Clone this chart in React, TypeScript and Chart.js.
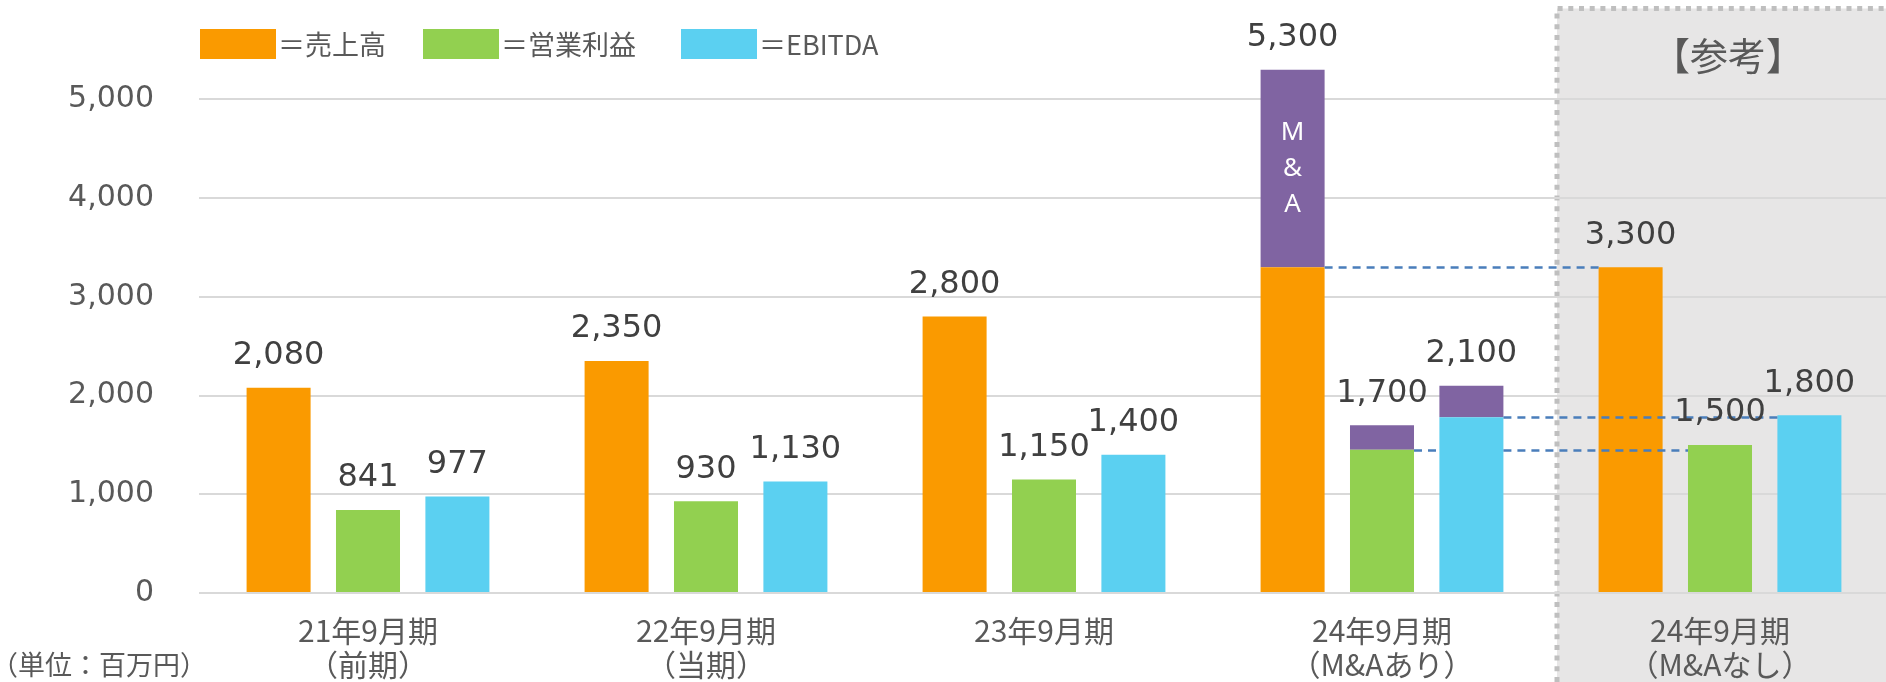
import React, { useEffect, useRef } from 'react';
import { Chart, registerables } from 'chart.js';

Chart.register(...registerables);

// ---- data ----
const categories: string[][] = [
  ['21年9月期', '（前期）'],
  ['22年9月期', '（当期）'],
  ['23年9月期'],
  ['24年9月期', '（M&Aあり）'],
  ['24年9月期', '（M&Aなし）'],
];
const sales: (number | null)[] = [2080, 2350, 2800, 3300, 3300];
const salesMA: (number | null)[] = [null, null, null, 2000, null];
const opProfit: (number | null)[] = [841, 930, 1150, 1450, 1500];
const opProfitMA: (number | null)[] = [null, null, null, 250, null];
const ebitda: (number | null)[] = [977, 1130, 1400, 1780, 1800];
const ebitdaMA: (number | null)[] = [null, null, null, 320, null];
const yTicks: number[] = [0, 1000, 2000, 3000, 4000, 5000];
const legendLabels: string[] = ['＝売上高', '＝営業利益', '＝EBITDA'];
const maLabel: string[] = ['M', '&', 'A'];
const unitLabel = '（単位：百万円）';
const refLabel = '【参考】';

const ORANGE = '#fa9a00';
const GREEN = '#92d050';
const CYAN = '#5bd0f1';
const PURPLE = '#8064a2';
const TEXT = '#595959';
const LABEL = '#404040';

const fmt = (v: number) => v.toLocaleString('en-US');

const decorPlugin = {
  id: 'decor',
  beforeDraw(chart: any) {
    const { ctx, scales } = chart;
    const x = scales.x;
    const bx = x.getPixelForValue(4) - 163;
    const top = 8.5;
    ctx.save();
    ctx.fillStyle = '#e7e6e6';
    ctx.fillRect(bx, top, chart.width - bx, chart.height - top);
    ctx.strokeStyle = '#bfbfbf';
    ctx.lineWidth = 5;
    ctx.setLineDash([5, 5.7]);
    ctx.beginPath();
    ctx.moveTo(bx, chart.height);
    ctx.lineTo(bx, top);
    ctx.lineTo(chart.width, top);
    ctx.stroke();
    ctx.restore();
  },
  afterDatasetsDraw(chart: any) {
    const { ctx, scales } = chart;
    const y = scales.y;
    const el = (ds: number, i: number) => chart.getDatasetMeta(ds).data[i];
    const right = (e: any) => e.x + e.width / 2;
    const left = (e: any) => e.x - e.width / 2;

    // dashed comparison lines
    ctx.save();
    ctx.strokeStyle = '#4a7ebb';
    ctx.lineWidth = 2.5;
    ctx.setLineDash([8, 6]);
    const seg = (x1: number, x2: number, v: number) => {
      const py = Math.round(y.getPixelForValue(v)) + 0.5;
      ctx.beginPath();
      ctx.moveTo(x1, py);
      ctx.lineTo(x2, py);
      ctx.stroke();
    };
    seg(right(el(1, 3)), left(el(0, 4)), sales[3] as number);
    seg(right(el(4, 3)), left(el(4, 4)), ebitda[3] as number);
    seg(right(el(2, 3)), left(el(4, 3)), opProfit[3] as number);
    seg(right(el(4, 3)), left(el(2, 4)), opProfit[3] as number);
    ctx.restore();

    // value labels above stacks
    ctx.save();
    ctx.fillStyle = LABEL;
    ctx.font = '32px "DejaVu Sans"';
    ctx.textAlign = 'center';
    ctx.textBaseline = 'alphabetic';
    const groups: [number, (number | null)[], (number | null)[]][] = [
      [0, sales, salesMA],
      [2, opProfit, opProfitMA],
      [4, ebitda, ebitdaMA],
    ];
    groups.forEach(([ds, base, extra]) => {
      base.forEach((b, i) => {
        if (b == null) return;
        const total = b + ((extra[i] as number) || 0);
        const e = el(ds, i);
        const py = y.getPixelForValue(total);
        ctx.fillText(fmt(total), e.x, py - 23.5);
      });
    });

    // M&A text inside purple sales bar
    const ma = el(1, 3);
    if (ma) {
      ctx.fillStyle = '#ffffff';
      ctx.font = '26px "Noto Sans"';
      ctx.textBaseline = 'middle';
      const cy = (ma.y + ma.base) / 2;
      const pitch = 36;
      maLabel.forEach((t, k) => {
        ctx.fillText(t, ma.x, cy + (k - (maLabel.length - 1) / 2) * pitch);
      });
    }
    ctx.restore();
  },
  afterDraw(chart: any) {
    const { ctx, chartArea, scales } = chart;
    const x = scales.x;
    ctx.save();
    // legend
    const colors = [ORANGE, GREEN, CYAN];
    const offsets = [1, 224, 482];
    ctx.font = '27px "Noto Sans CJK JP"';
    ctx.textBaseline = 'middle';
    ctx.textAlign = 'left';
    legendLabels.forEach((t, k) => {
      const lx = chartArea.left + offsets[k];
      ctx.fillStyle = colors[k];
      ctx.fillRect(lx, 29, 76, 30);
      ctx.fillStyle = TEXT;
      ctx.fillText(t, lx + 78, 45);
    });
    // reference heading
    ctx.font = '38px "Noto Sans CJK JP"';
    ctx.textAlign = 'center';
    ctx.fillStyle = TEXT;
    ctx.fillText(refLabel, x.getPixelForValue(4) + 8, 56);
    // unit
    ctx.font = '27px "Noto Sans CJK JP"';
    ctx.fillText(unitLabel, 99, 665);
    ctx.restore();
  },
};

export default function App() {
  const ref = useRef<HTMLCanvasElement | null>(null);

  useEffect(() => {
    document.body.style.margin = '0';
    document.body.style.overflow = 'hidden';
    const canvas = ref.current;
    if (!canvas) return;
    const common = { barPercentage: 0.716, categoryPercentage: 0.7935, borderWidth: 0 };
    const chart = new Chart(canvas, {
      type: 'bar',
      data: {
        labels: categories,
        datasets: [
          { label: '売上高', data: sales, backgroundColor: ORANGE, stack: 's', ...common },
          { label: '売上高M&A', data: salesMA, backgroundColor: PURPLE, stack: 's', ...common },
          { label: '営業利益', data: opProfit, backgroundColor: GREEN, stack: 'o', ...common },
          { label: '営業利益M&A', data: opProfitMA, backgroundColor: PURPLE, stack: 'o', ...common },
          { label: 'EBITDA', data: ebitda, backgroundColor: CYAN, stack: 'e', ...common },
          { label: 'EBITDA M&A', data: ebitdaMA, backgroundColor: PURPLE, stack: 'e', ...common },
        ],
      },
      options: {
        responsive: false,
        animation: false,
        devicePixelRatio: 1,
        layout: { padding: { top: 50, right: 0, left: 0, bottom: 0 } },
        plugins: { legend: { display: false }, tooltip: { enabled: false } },
        scales: {
          x: {
            stacked: true,
            grid: { display: false, drawTicks: false, tickLength: 0 },
            border: { display: false },
            ticks: {
              color: TEXT,
              font: { family: '"Noto Sans CJK JP"', size: 30, lineHeight: 34 / 30 },
              padding: 21,
              maxRotation: 0,
              autoSkip: false,
            },
            afterFit: (s: any) => {
              s.height = 89;
              s.paddingLeft = 0;
              s.paddingRight = 0;
            },
          },
          y: {
            stacked: true,
            min: 0,
            max: 5500,
            grid: { color: '#d9d9d9', lineWidth: 2, drawTicks: false, tickLength: 0 },
            border: { display: false },
            afterBuildTicks: (s: any) => {
              s.ticks = yTicks.map((v) => ({ value: v }));
            },
            ticks: {
              color: TEXT,
              font: { family: '"DejaVu Sans"', size: 30 },
              padding: 45,
              callback: (v: any) => fmt(Number(v)),
            },
            afterFit: (s: any) => {
              s.width = 199;
              s.paddingTop = 0;
              s.paddingBottom = 0;
            },
          },
        },
      } as any,
      plugins: [decorPlugin],
    });
    return () => chart.destroy();
  }, []);

  return (
    <div style={{ width: 1886, height: 682, overflow: 'hidden', position: 'relative' }}>
      <canvas ref={ref} width={1889} height={682} style={{ display: 'block' }} />
    </div>
  );
}
